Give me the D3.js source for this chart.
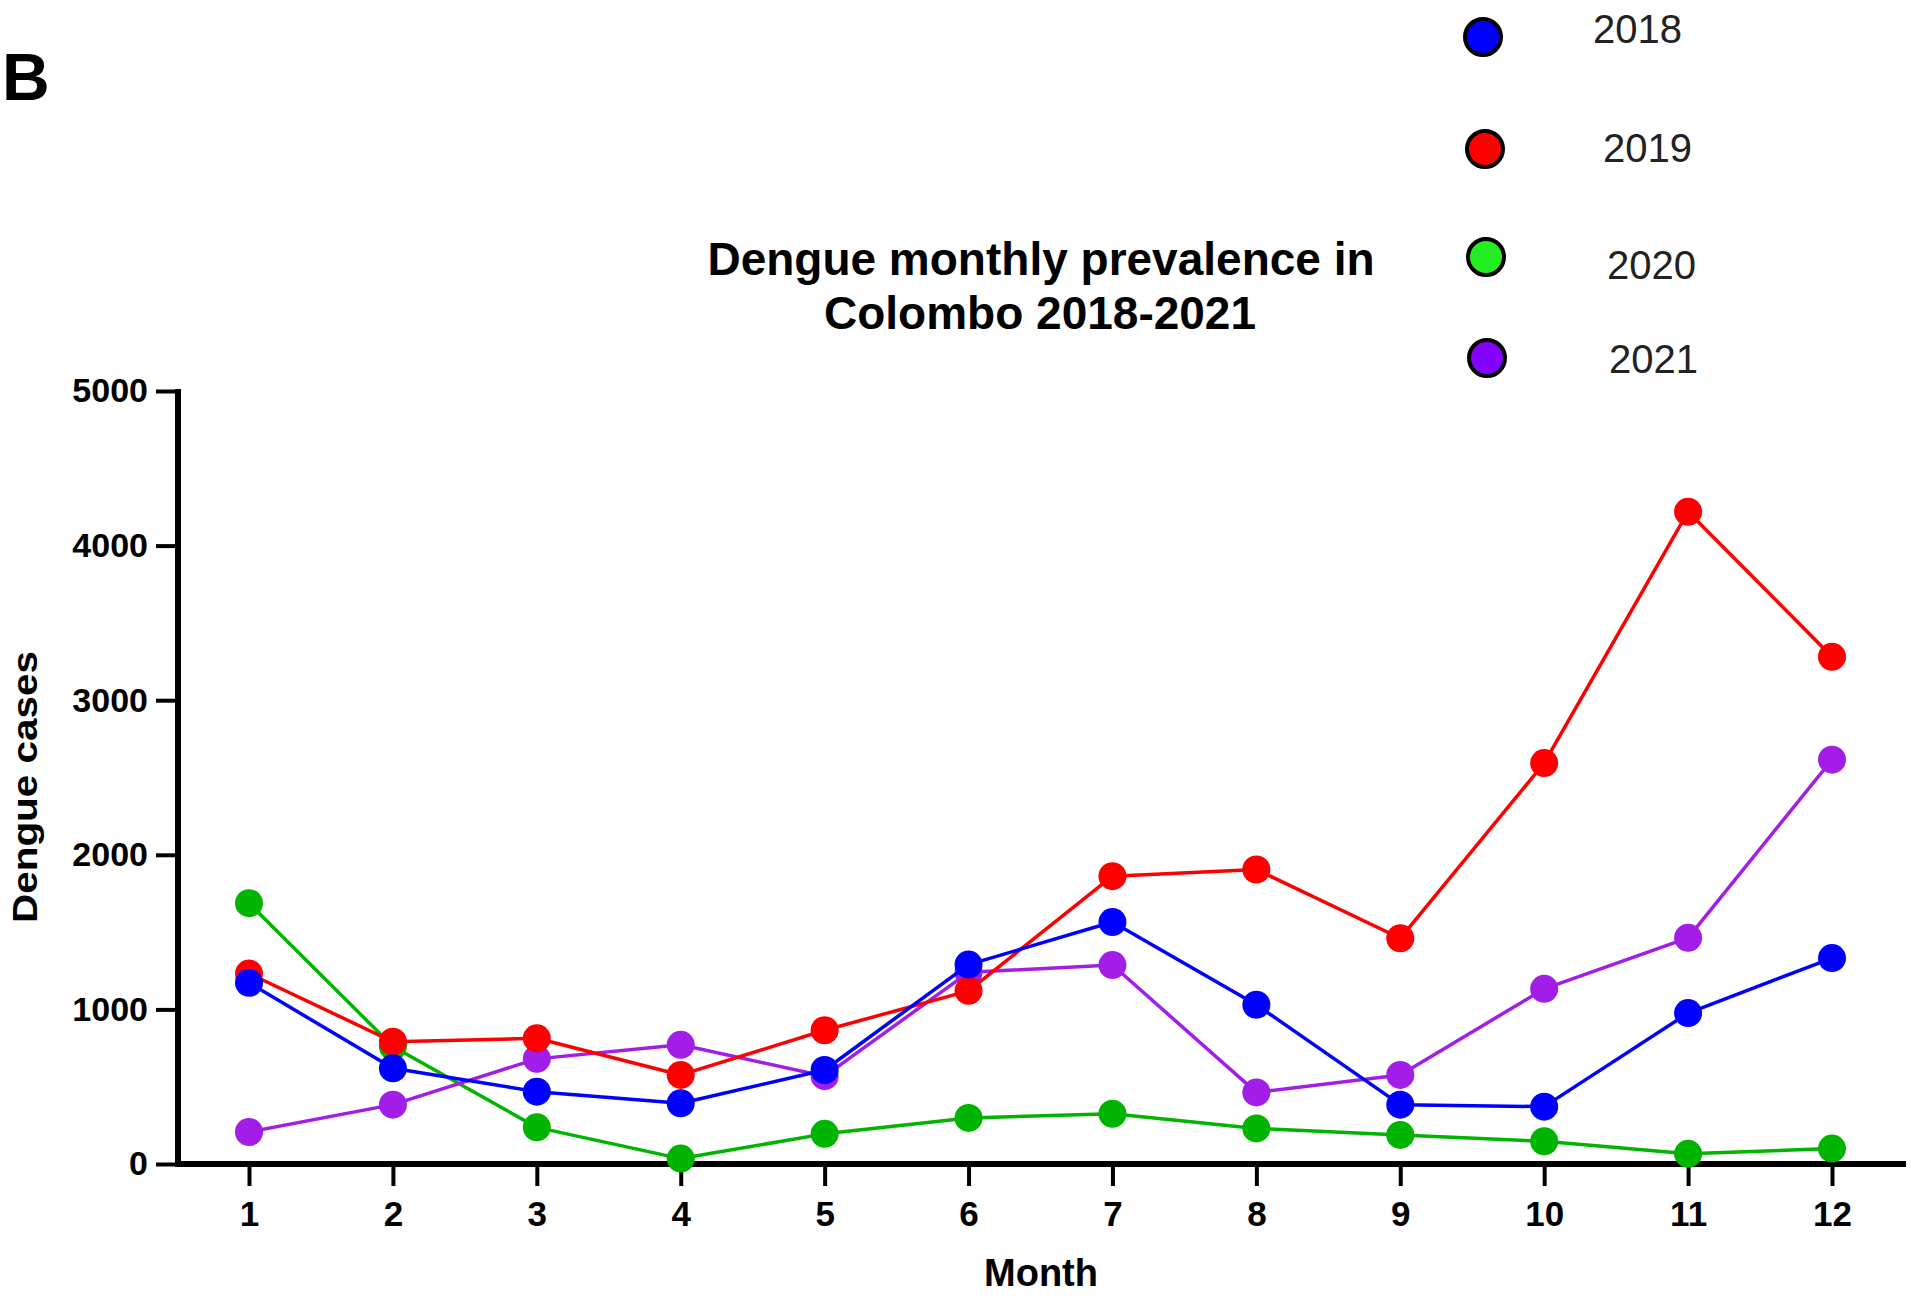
<!DOCTYPE html>
<html>
<head>
<meta charset="utf-8">
<script src="https://cdn.jsdelivr.net/npm/d3@7"></script>
<style>
  html, body { margin: 0; padding: 0; background: #fff; }
  svg { display: block; }
  text { font-family: "Liberation Sans", Arial, sans-serif; }
</style>
</head>
<body>
<svg id="chart" width="1911" height="1298"></svg>
<script>
// ---------- data ----------
const months = [1, 2, 3, 4, 5, 6, 7, 8, 9, 10, 11, 12];
const seriesNames = ["2018", "2019", "2020", "2021"];
const cases2018 = [1172, 619, 468, 393, 608, 1290, 1565, 1030, 384, 371, 976, 1332];
const cases2019 = [1232, 791, 813, 576, 865, 1120, 1862, 1905, 1460, 2593, 4219, 3281];
const cases2020 = [1687, 760, 237, 35, 195, 298, 325, 230, 188, 147, 66, 100];
const cases2021 = [207, 384, 680, 771, 568, 1240, 1287, 463, 576, 1133, 1463, 2615];
const yTicks = [0, 1000, 2000, 3000, 4000, 5000];
const xTicks = months;
const titleLines = ["Dengue monthly prevalence in", "Colombo 2018-2021"];
const xLabel = "Month";
const yLabel = "Dengue cases";
const panelLetter = "B";

// ---------- styles ----------
const lineColors = ["#0000ff", "#ff0000", "#00b400", "#a21ee8"];
const legendColors = ["#0000ff", "#ff0000", "#22ee22", "#8400ff"];
const drawOrder = [2, 3, 1, 0]; // 2020, 2021, 2019, 2018 (2018 on top)

const allSeries = [cases2018, cases2019, cases2020, cases2021];

const svg = d3.select("#chart");
const W = 1911, H = 1298;

const x = d3.scaleLinear().domain([1, 12]).range([249, 1832]);
const y = d3.scaleLinear().domain([0, 5000]).range([1164, 391]);
const axisX0 = 178;     // y-axis position
const axisXEnd = 1906;  // right end of x-axis line

// ---------- axes ----------
const yAxis = d3.axisLeft(y).tickValues(yTicks).tickFormat(d3.format("d"))
  .tickSize(22).tickSizeOuter(0).tickPadding(8);
const gy = svg.append("g").attr("transform", `translate(${axisX0},0)`).call(yAxis);
gy.select(".domain").remove();
gy.selectAll(".tick line").attr("stroke", "#000").attr("stroke-width", 4);
gy.selectAll(".tick text").attr("font-size", 34).attr("font-weight", "bold")
  .attr("fill", "#000").attr("font-family", "'Liberation Sans', Arial, sans-serif");

const xAxis = d3.axisBottom(x).tickValues(xTicks).tickFormat(d3.format("d"))
  .tickSize(22).tickSizeOuter(0).tickPadding(15);
const gx = svg.append("g").attr("transform", `translate(0,${y(0)})`).call(xAxis);
gx.select(".domain").remove();
gx.selectAll(".tick line").attr("stroke", "#000").attr("stroke-width", 4);
gx.selectAll(".tick text").attr("font-size", 35).attr("font-weight", "bold")
  .attr("fill", "#000").attr("font-family", "'Liberation Sans', Arial, sans-serif");

// axis lines
svg.append("line").attr("x1", axisX0).attr("x2", axisX0)
  .attr("y1", y(5000) - 2).attr("y2", y(0) + 3)
  .attr("stroke", "#000").attr("stroke-width", 6);
svg.append("line").attr("x1", axisX0 - 3).attr("x2", axisXEnd)
  .attr("y1", y(0)).attr("y2", y(0))
  .attr("stroke", "#000").attr("stroke-width", 6);

// ---------- series ----------
const line = d3.line().x((d, i) => x(months[i])).y(d => y(d));
drawOrder.forEach(si => {
  const g = svg.append("g");
  g.append("path").datum(allSeries[si]).attr("d", line)
    .attr("fill", "none").attr("stroke", lineColors[si]).attr("stroke-width", 3.5)
    .attr("stroke-linejoin", "round");
  g.selectAll("circle").data(allSeries[si]).join("circle")
    .attr("cx", (d, i) => x(months[i])).attr("cy", d => y(d)).attr("r", 14)
    .attr("fill", lineColors[si]);
});

// ---------- titles ----------
svg.append("text").attr("x", 1041).attr("y", 275).attr("text-anchor", "middle")
  .attr("font-size", 46).attr("font-weight", "bold").attr("fill", "#000").text(titleLines[0]);
svg.append("text").attr("x", 1040).attr("y", 329).attr("text-anchor", "middle")
  .attr("font-size", 46).attr("font-weight", "bold").attr("fill", "#000").text(titleLines[1]);

svg.append("text").attr("x", 1041).attr("y", 1286).attr("text-anchor", "middle")
  .attr("font-size", 38).attr("font-weight", "bold").attr("fill", "#000").text(xLabel);

svg.append("text").attr("transform", `translate(37,787) rotate(-90)`).attr("text-anchor", "middle")
  .attr("font-size", 35).attr("font-weight", "bold").attr("fill", "#000")
  .attr("textLength", 272).attr("lengthAdjust", "spacingAndGlyphs").text(yLabel);

svg.append("text").attr("x", 2).attr("y", 100)
  .attr("font-size", 66).attr("font-weight", "bold").attr("fill", "#000").text(panelLetter);

// ---------- legend ----------
const legendCircleX = [1483, 1485, 1486, 1487];
const legendCircleY = [37, 149, 257, 358];
const legendTextX = [1593, 1603, 1607, 1609];
const legendTextY = [43, 162, 279, 373];
seriesNames.forEach((name, i) => {
  svg.append("circle").attr("cx", legendCircleX[i]).attr("cy", legendCircleY[i]).attr("r", 18)
    .attr("fill", legendColors[i]).attr("stroke", "#000").attr("stroke-width", 4);
  svg.append("text").attr("x", legendTextX[i]).attr("y", legendTextY[i])
    .attr("font-size", 40).attr("fill", "#222").text(name);
});
</script>
</body>
</html>
